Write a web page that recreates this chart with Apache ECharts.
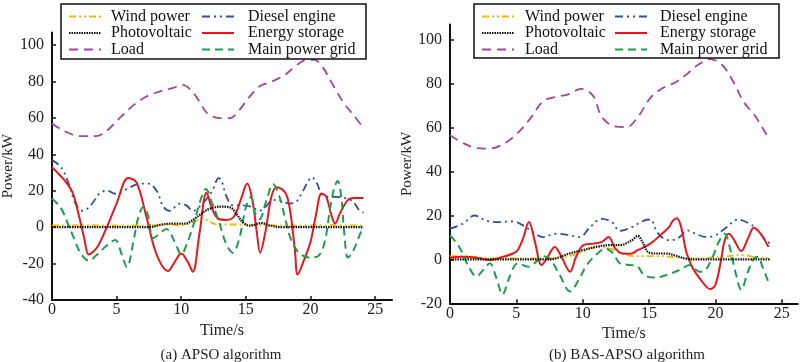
<!DOCTYPE html>
<html>
<head>
<meta charset="utf-8">
<script src="https://cdn.jsdelivr.net/npm/echarts@6/dist/echarts.min.js"></script>
<style>
html,body{margin:0;padding:0;background:#fff;}
#chart{width:800px;height:362px;}
</style>
</head>
<body>
<div id="chart"></div>
<script>
// ---------- data: [time (s), power (kW)] ----------
const seriesNames = ['Wind power', 'Photovoltaic', 'Load', 'Diesel engine', 'Energy storage', 'Main power grid'];
const panelTitles = ['(a) APSO algorithm', '(b) BAS-APSO algorithm'];
const xTicks = [0, 5, 10, 15, 20, 25];
const yTicksA = [-40, -20, 0, 20, 40, 60, 80, 100];
const yTicksB = [-20, 0, 20, 40, 60, 80, 100];

// (a) APSO
const apsoWind = [[0,1],[2,1],[4,1],[6,0.8],[8,1],[9,1.5],[10,1],[11,3],[11.5,4.5],[12,4],[12.5,2],[13,1.5],[14,1.5],[15,1.5],[16,1],[17,1],[18,0.8],[19,0.8],[20,1],[21,1],[22,1.2],[23,1],[24,1]];
const apsoPV = [[0,0],[2,0],[4,0],[6,0],[7.5,0],[8.5,1.5],[9.5,2],[10.3,2],[11,4.5],[12,9.5],[13,11.3],[13.8,10.8],[14.3,7],[14.8,2.5],[15.3,0.8],[16.2,2.3],[16.8,1],[17.8,0],[20,0],[22,0],[24.1,0]];
const apsoLoad = [[0,57],[1,52.7],[2.2,50],[3.4,50],[4.2,52.7],[5.1,59],[6.25,66.7],[7.3,71.8],[8.3,74.5],[9.3,76.4],[10.1,78.2],[10.8,75],[11.5,68],[12,62.7],[12.9,60],[13.8,60],[14.4,63.6],[15.3,71.8],[16.1,77.6],[17,80],[18,83.6],[18.75,88],[19.6,91.8],[20.3,92],[21,87.3],[21.8,77.3],[22.6,68],[23.3,61.8],[24,55.5]];
const apsoDiesel = [[0,37],[0.7,33],[1.3,24],[1.7,15],[2.1,10],[2.4,9],[3,12],[3.75,19],[4.3,20],[4.9,18.4],[5.8,21],[6.55,23.5],[7.45,24],[8.1,20],[8.6,11.5],[9.1,9],[9.9,13],[10.4,12],[10.9,9],[11.65,13],[12.4,20],[12.9,27],[13.1,26],[13.5,17],[14,12],[14.75,12],[15.5,11],[16,9],[16.5,11],[17.1,15],[17.9,14],[18.4,13],[18.9,14],[19.3,18.4],[19.8,25],[20.1,27.5],[20.5,24],[20.85,18.4],[21.3,16.7],[21.95,16.7],[22.8,15.8],[23.3,14],[23.8,9],[24.1,8]];
const apsoStorage = [[0,33],[0.95,26],[1.6,19],[2.1,6],[2.5,-6],[2.85,-15],[3.5,-11],[4.3,1],[5,13],[5.9,27],[6.55,24.5],[7.3,6],[8.1,-15],[9,-24],[9.5,-19],[10,-14.5],[10.5,-19],[10.9,-24.5],[11.4,-4],[11.96,19],[12.4,10],[12.9,4.5],[13.5,4],[14.1,6],[14.6,15],[15.1,24],[15.5,15],[15.85,-3],[16.1,-14],[16.5,-3],[17,17.5],[17.4,22],[18.05,19],[18.4,10],[18.8,-13],[19,-26],[19.5,-18],[20,-8],[20.4,6],[20.85,18.5],[21.2,17],[21.6,7],[21.9,2],[22.3,8],[22.9,15],[23.4,16],[24.1,16]];
const apsoGrid = [[0,15.8],[0.7,10.5],[1.2,2.6],[1.7,-6],[2.2,-14],[2.85,-18.4],[3.5,-15],[4.3,-9.6],[4.9,-7],[5.4,-15],[5.8,-22],[6.3,-8],[6.7,6],[7.1,11.4],[7.45,6],[7.8,-6],[8.2,-4.4],[8.85,-1],[9.5,-8],[10,-15],[10.5,-8],[11,2.6],[11.5,15],[11.9,21],[12.4,13],[12.9,3.5],[13.5,-9.6],[14,-14],[14.5,-6],[15,11],[15.4,16.7],[15.7,8],[16.05,4.4],[16.6,15],[17.1,23.7],[17.6,16.7],[18.05,4.4],[18.5,-7],[19.1,-14],[19.9,-16.7],[20.6,-15.8],[21.1,-8],[21.5,9.6],[21.85,22],[22.1,25.4],[22.4,15],[22.6,-2.6],[22.9,-16.7],[23.3,-13],[23.9,-2.6],[24.1,0]];

// (b) BAS-APSO
const basWind = [[0,1.5],[1,1.5],[2,1],[3,0.5],[4,0.5],[5,0.5],[6,0.5],[7,0.5],[8,0.5],[9,1.5],[10,3.5],[11,5.5],[12,5],[13,2.5],[14,1.5],[15,1.5],[16,1.5],[17,1],[18,0.5],[19,0.5],[20,1],[21,1.5],[22,2],[23,1],[24,0.5]];
const basPV = [[0,0],[2,0],[4,0],[6,0],[7.5,0],[8,0.5],[9,2.7],[10,4.2],[11,5.7],[12,6.5],[12.8,6.5],[13.7,8.7],[14.15,10.7],[14.5,8],[14.9,3.5],[15.4,2.7],[16.35,2.7],[17,1.7],[17.8,0.3],[18.5,0],[20,0],[22,0],[24.1,0]];
const basLoad = [[0,56.6],[1,53],[2,50.7],[3,50.5],[4,52.5],[5,57],[6,63.8],[7,72],[7.9,74],[8.8,75],[9.9,77.7],[10.8,74.4],[11.4,65.3],[12.3,60.8],[13.3,60.3],[14.2,65.3],[15.1,73.6],[16,78],[17,80.7],[17.8,84.2],[18.7,88.7],[19.6,91.3],[20.5,88.7],[21.4,80.4],[22.1,72],[23,65.3],[23.9,56.3]];
const basDiesel = [[0,14],[0.95,16.2],[1.85,20],[2.7,17.7],[3.7,17],[4.75,17.3],[5.5,15.5],[6.25,12.5],[7,10.2],[8,11.7],[9,11],[9.8,10.2],[10.55,14.7],[11.45,18.5],[12.2,17],[12.8,13],[13.7,14.7],[14.6,17.7],[15.1,18.2],[15.6,12.5],[16.1,9.5],[16.7,8.7],[17.3,10.2],[17.9,13.2],[18.5,11.7],[19.3,10.2],[20,11],[20.85,14.7],[21.7,18.2],[22.6,16.2],[23.2,13.2],[23.9,8],[24.1,7.5]];
const basStorage = [[0,0.8],[0.95,1.2],[2,0.8],[3,-0.3],[4,1.2],[4.75,2.7],[5.1,4.2],[5.5,9.5],[5.95,17],[6.4,8],[6.9,-2.6],[7.3,0.5],[7.9,5.7],[8.4,1.2],[9.05,-5.6],[9.5,1.2],[10.05,6.5],[10.8,7.2],[11.45,8],[11.95,10.2],[12.45,5],[13,2.7],[13.6,2.6],[14.15,4.2],[15.1,7.2],[15.85,11],[16.5,14.7],[16.8,17.7],[17.1,18.8],[17.45,14],[17.8,3.5],[18.3,-4],[18.9,-9.3],[19.6,-13.5],[20,-11.6],[20.4,-1],[20.7,8.7],[21,11.7],[21.35,9.5],[21.95,3.8],[22.45,9.5],[22.9,14.4],[23.4,11.7],[24,5.7]];
const basGrid = [[0,11],[0.7,5.7],[1.35,-2.6],[2,-7.8],[2.5,-4.8],[3,-1.8],[3.5,-8.6],[3.95,-16],[4.5,-7.8],[5.1,-1.8],[5.9,-3.3],[6.5,-1],[7,1.5],[7.5,0.5],[8.2,-6.3],[9.05,-14.6],[9.7,-9.3],[10.3,-2.6],[11,2],[11.7,5],[12.3,2.7],[12.8,-1.8],[13.7,-2.6],[14.15,-3.3],[14.6,-7],[15.4,-8.3],[16.35,-7],[17.3,-4.8],[18.05,-2.6],[18.8,-5.6],[19.25,-4.8],[19.75,0.5],[20.25,8],[20.7,11.7],[21.1,5],[21.5,-5.6],[21.95,-13.8],[22.45,-5.6],[22.9,0.5],[23.2,1.2],[23.5,-2.6],[24,-10.4]];

// ---------- styles ----------
const FONT = '"Liberation Serif", "Times New Roman", serif';
const styles = {
  'Wind power':      {color: '#f2b705', width: 1.8, type: [7, 3, 2, 3, 2, 3]},
  'Photovoltaic':    {color: '#111111', width: 2.2, type: [1.5, 1]},
  'Load':            {color: '#a3459a', width: 1.8, type: [9, 6]},
  'Diesel engine':   {color: '#2f4f9f', width: 1.8, type: [8, 4, 2, 4, 2, 4]},
  'Energy storage':  {color: '#e8161d', width: 2, type: 'solid'},
  'Main power grid': {color: '#1f9e4a', width: 2, type: [8, 5]}
};
const panelData = [
  [apsoWind, apsoPV, apsoLoad, apsoDiesel, apsoStorage, apsoGrid],
  [basWind, basPV, basLoad, basDiesel, basStorage, basGrid]
];

const chart = echarts.init(document.getElementById('chart'), null, {renderer: 'canvas'});

const grids = [
  {left: 48, top: 32.5, width: 344, height: 267.5},
  {left: 450, top: 24.6, width: 347.7, height: 278.7}
];
const xMax = [26.3, 26.2];
const yMin = [-40, -20];
const yTicks = [yTicksA, yTicksB];

const axisCommon = {
  axisLine: {show: true, onZero: false, lineStyle: {color: '#111', width: 2}},
  axisTick: {show: true, inside: true, length: 4, lineStyle: {color: '#111', width: 1.5}},
  splitLine: {show: false}
};

const xAxes = [0, 1].map(i => Object.assign({}, axisCommon, {
  type: 'value', gridIndex: i, min: 0, max: xMax[i], interval: 5,
  axisTick: Object.assign({}, axisCommon.axisTick, {customValues: xTicks}),
  axisLabel: {customValues: xTicks, margin: 2, fontFamily: FONT, fontSize: 16, color: '#222'},
  name: 'Time/s', nameLocation: 'middle', nameGap: 20,
  nameTextStyle: {fontFamily: FONT, fontSize: 16, color: '#222'}
}));
const yAxes = [0, 1].map(i => Object.assign({}, axisCommon, {
  type: 'value', gridIndex: i, min: yMin[i], max: 107, interval: 20,
  axisTick: Object.assign({}, axisCommon.axisTick, {customValues: yTicks[i]}),
  axisLabel: {customValues: yTicks[i], margin: 8, fontFamily: FONT, fontSize: 16, color: '#222'},
  name: 'Power/kW', nameLocation: 'middle', nameGap: 28,
  nameTextStyle: {fontFamily: FONT, fontSize: 15, color: '#222'}
}));

const series = [];
panelData.forEach((arrs, p) => {
  arrs.forEach((d, k) => {
    const nm = seriesNames[k];
    const s = styles[nm];
    series.push({
      name: nm, type: 'line', xAxisIndex: p, yAxisIndex: p,
      data: d, smooth: 0.35, symbol: 'none', showSymbol: false,
      lineStyle: {color: s.color, width: s.width, type: s.type},
      itemStyle: {color: s.color},
      z: k === 1 ? 4 : 3,
      animation: false
    });
  });
});

function legendCol(left, names, padLeft) {
  return {
    orient: 'vertical', left: left, top: 8.5, padding: 0, itemGap: 0.5, itemWidth: 32, itemHeight: 14,
    data: names, z: 20, selectedMode: false,
    itemStyle: {opacity: 0, borderWidth: 0},
    textStyle: {fontFamily: FONT, fontSize: 16, color: '#111', lineHeight: 15, padding: [0, 0, 0, padLeft]}
  };
}

const option = {
  backgroundColor: '#fff',
  animation: false,
  grid: grids,
  xAxis: xAxes,
  yAxis: yAxes,
  title: [
    {text: panelTitles[0], left: 216, top: 343, textAlign: 'center',
     textStyle: {fontFamily: FONT, fontSize: 15, fontWeight: 'normal', color: '#222'}},
    {text: panelTitles[1], left: 622, top: 343, textAlign: 'center',
     textStyle: {fontFamily: FONT, fontSize: 15, fontWeight: 'normal', color: '#222'}}
  ],
  legend: [
    legendCol(68, seriesNames.slice(0, 3), 5),
    legendCol(201, seriesNames.slice(3), 9),
    legendCol(481, seriesNames.slice(0, 3), 6),
    legendCol(614, seriesNames.slice(3), 8)
  ],
  graphic: [
    {type: 'rect', z: 10, shape: {x: 61, y: 4, width: 305, height: 55},
     style: {fill: '#fff', stroke: '#111', lineWidth: 1.5}},
    {type: 'rect', z: 10, shape: {x: 474, y: 4, width: 305, height: 54},
     style: {fill: '#fff', stroke: '#111', lineWidth: 1.5}}
  ],
  series: series
};
chart.setOption(option);
</script>
</body>
</html>
